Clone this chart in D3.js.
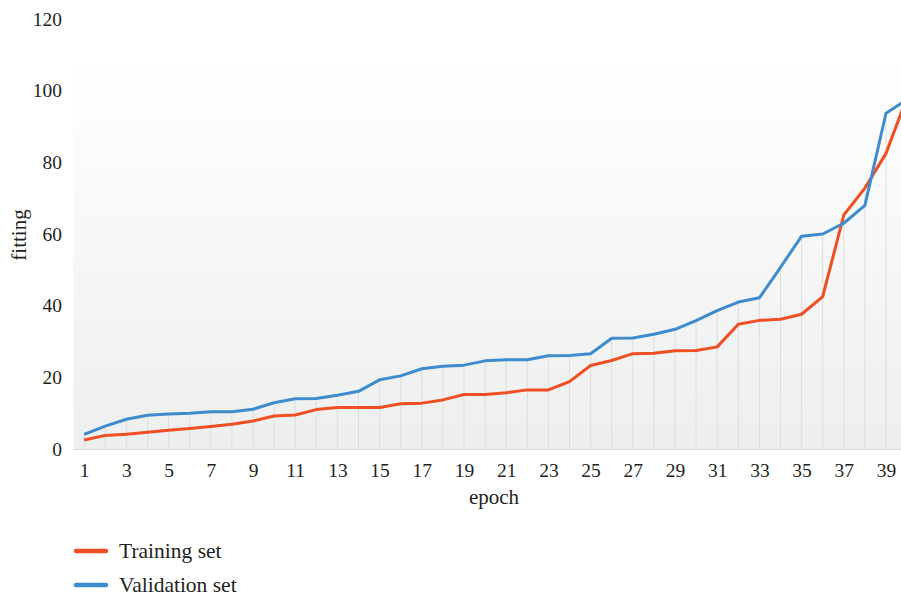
<!DOCTYPE html>
<html><head><meta charset="utf-8">
<script src="https://cdn.jsdelivr.net/npm/d3@7"></script>
<style>body{margin:0;background:#fff}svg{display:block}text{font-family:"Liberation Serif","DejaVu Serif",serif;fill:#231f20}</style>
</head><body><svg id="c" width="901" height="596"></svg>
<script>
const epochs = d3.range(1, 41);
const training = [2.5,3.8,4.1,4.7,5.2,5.7,6.3,6.9,7.8,9.2,9.5,11.0,11.6,11.6,11.6,12.6,12.8,13.7,15.2,15.2,15.7,16.5,16.5,18.8,23.3,24.7,26.6,26.7,27.4,27.5,28.5,34.8,35.9,36.2,37.6,42.5,65.3,72.8,82.5,98.2];
const validation = [4.1,6.4,8.3,9.4,9.8,10.0,10.4,10.4,11.1,12.9,14.0,14.1,15.0,16.1,19.3,20.4,22.4,23.1,23.4,24.6,24.9,24.9,26.0,26.1,26.6,30.9,31.0,32.0,33.4,35.8,38.6,41.0,42.2,50.7,59.4,60.0,63.0,68.0,93.7,97.5];
const yTicks = [0,20,40,60,80,100,120];
const seriesNames = ["Training set","Validation set"];
const colors = ["#f04e23","#3e8bcd"];

const svg = d3.select("#c");
const plotL = 73.5, plotR = 901, plotTop = 63, plotBottom = 449;
const x = d3.scalePoint().domain(epochs).range([73.65, 917.65]).padding(0.5);
const y = d3.scaleLinear().domain([0,120]).range([449, 19]);

const defs = svg.append("defs");
const g = defs.append("linearGradient").attr("id","bg").attr("x1",0).attr("y1",0).attr("x2",0).attr("y2",1);
g.append("stop").attr("offset","0%").attr("stop-color","#ffffff");
g.append("stop").attr("offset","100%").attr("stop-color","#edeeee");
defs.append("clipPath").attr("id","clip").append("rect").attr("x",plotL).attr("y",0).attr("width",plotR-plotL).attr("height",plotBottom+1);

svg.append("rect").attr("x",plotL).attr("y",plotTop).attr("width",plotR-plotL).attr("height",plotBottom-plotTop).attr("fill","url(#bg)");

const plot = svg.append("g").attr("clip-path","url(#clip)");
plot.selectAll("line.drop").data(epochs).join("line").attr("class","drop")
  .attr("x1",d=>x(d)).attr("x2",d=>x(d))
  .attr("y1",(d,i)=>y(Math.max(training[i],validation[i])))
  .attr("y2",plotBottom).attr("stroke","#dcdddd").attr("stroke-width",1);
svg.append("line").attr("x1",plotL).attr("x2",plotR).attr("y1",plotBottom+0.5).attr("y2",plotBottom+0.5).attr("stroke","#d8d9d9");

const line = d3.line().x((d,i)=>x(epochs[i])).y(d=>y(d));
[training, validation].forEach((s,k)=>{
  plot.append("path").datum(s).attr("d",line).attr("fill","none")
    .attr("stroke",colors[k]).attr("stroke-width",3).attr("stroke-linejoin","round");
});

const yAx = svg.append("g").attr("transform","translate(62,0)")
  .call(d3.axisLeft(y).tickValues(yTicks).tickSize(0).tickPadding(0));
yAx.select(".domain").remove();
yAx.selectAll("text").attr("font-size",19.5).attr("font-family","Liberation Serif").attr("fill","#231f20");

const xAx = svg.append("g").attr("transform",`translate(0,${plotBottom+10})`)
  .call(d3.axisBottom(x).tickValues(epochs.filter(e=>e%2===1)).tickSize(0).tickPadding(0));
xAx.select(".domain").remove();
xAx.selectAll("text").attr("font-size",19.5).attr("font-family","Liberation Serif").attr("fill","#231f20").attr("dy","0.9em");

svg.append("text").attr("x",494).attr("y",504).attr("text-anchor","middle").attr("font-size",21).text("epoch");
svg.append("text").attr("transform","translate(26,235) rotate(-90)").attr("text-anchor","middle").attr("font-size",21).text("fitting");

seriesNames.forEach((n,k)=>{
  const ly = 551 + k*34;
  svg.append("line").attr("x1",76).attr("x2",106).attr("y1",ly).attr("y2",ly)
    .attr("stroke",colors[k]).attr("stroke-width",4.5).attr("stroke-linecap","round");
  svg.append("text").attr("x",119).attr("y",ly).attr("dy","0.33em").attr("font-size",21.5).text(n);
});
</script></body></html>
